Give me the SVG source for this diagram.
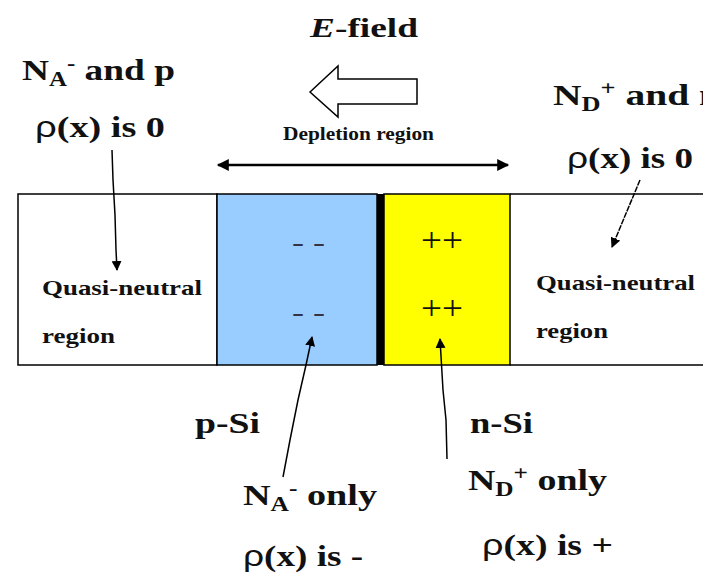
<svg xmlns="http://www.w3.org/2000/svg" width="703" height="575" viewBox="0 0 703 575" font-family="'Liberation Serif', 'Times New Roman', serif">
<defs>
<style>
text{font-family:'Liberation Serif','Times New Roman',serif;font-weight:bold;fill:#111}
.rho{font-family:'Liberation Sans',Arial,sans-serif;font-weight:normal}
.ch{font-weight:normal}
.ln{fill:none;stroke:#000;stroke-width:1.5}
</style>
<marker id="ah" viewBox="0 0 10 10" refX="9" refY="5" markerWidth="10" markerHeight="10" orient="auto" markerUnits="userSpaceOnUse">
<path d="M0,0 L10,5 L0,10 z" fill="#000"/>
</marker>
<marker id="ahb" viewBox="0 0 10 10" refX="9" refY="5" markerWidth="14" markerHeight="12" orient="auto-start-reverse" markerUnits="userSpaceOnUse">
<path d="M0,0 L10,5 L0,10 z" fill="#000"/>
</marker>
</defs>
<rect width="703" height="575" fill="#fff"/>

<g id="regions">
<rect x="18" y="194" width="199" height="171" fill="#fff" stroke="#000" stroke-width="1.5"/>
<rect x="217" y="194" width="160" height="171" fill="#99CCFF" stroke="#000" stroke-width="1.5"/>
<rect x="377" y="194" width="7" height="171" fill="#000"/>
<rect x="384" y="194" width="126" height="171" fill="#FFFF00" stroke="#000" stroke-width="1.5"/>
<path d="M510,194 H705 M510,365 H705" stroke="#000" stroke-width="1.5"/>
</g>

<g id="charges">
<text class="ch" x="292" y="251" font-size="28" textLength="33" lengthAdjust="spacingAndGlyphs" style="fill:#334">- -</text>
<text class="ch" x="292" y="321" font-size="28" textLength="33" lengthAdjust="spacingAndGlyphs" style="fill:#334">- -</text>
<text class="ch" x="421" y="251" font-size="34" textLength="42" lengthAdjust="spacingAndGlyphs">++</text>
<text class="ch" x="421" y="319" font-size="34" textLength="42" lengthAdjust="spacingAndGlyphs">++</text>
</g>

<g id="efield">
<text x="310" y="37" font-size="28" textLength="108" lengthAdjust="spacingAndGlyphs"><tspan font-style="italic">E</tspan>-field</text>
<path d="M310,92 L338,66 L338,79 L417,79 L417,104 L338,104 L338,117 Z" fill="#fff" stroke="#000" stroke-width="1.5"/>
<text x="283" y="140" font-size="18" textLength="151" lengthAdjust="spacingAndGlyphs">Depletion region</text>
</g>

<g id="connectors">
<line x1="218" y1="165" x2="508" y2="165" stroke="#000" stroke-width="2.5" marker-start="url(#ahb)" marker-end="url(#ahb)"/>
<path class="ln" d="M112,150 L113,180 L115,215 L116,250 L117,270" marker-end="url(#ah)"/>
<path class="ln" d="M640,180 L612,247" stroke-dasharray="6,1" marker-end="url(#ah)"/>
<path class="ln" d="M283,477 L290,440 L298,400 L306,365 L312,337" marker-end="url(#ah)"/>
<path class="ln" d="M447,459 L446,420 L443,390 L440,339" marker-end="url(#ah)"/>
</g>

<g id="left-label">
<text x="22" y="80" font-size="30" textLength="153" lengthAdjust="spacingAndGlyphs">N<tspan font-size="20" dy="6">A</tspan><tspan font-size="20" dy="-16">-</tspan><tspan dy="10"> and p</tspan></text>
<text x="35" y="137" font-size="30" textLength="130" lengthAdjust="spacingAndGlyphs"><tspan class="rho">ρ</tspan>(x) is 0</text>
</g>

<g id="right-label">
<text x="553" y="105" font-size="30" textLength="168" lengthAdjust="spacingAndGlyphs">N<tspan font-size="20" dy="6">D</tspan><tspan font-size="20" dy="-16">+</tspan><tspan dy="10"> and n</tspan></text>
<text x="567" y="168" font-size="30" textLength="126" lengthAdjust="spacingAndGlyphs"><tspan class="rho">ρ</tspan>(x) is 0</text>
</g>

<g id="left-qn">
<text x="42" y="295" font-size="21" textLength="160" lengthAdjust="spacingAndGlyphs">Quasi-neutral</text>
<text x="42" y="343" font-size="21" textLength="73" lengthAdjust="spacingAndGlyphs">region</text>
</g>

<g id="right-qn">
<text x="536" y="290" font-size="21" textLength="159" lengthAdjust="spacingAndGlyphs">Quasi-neutral</text>
<text x="536" y="338" font-size="21" textLength="72" lengthAdjust="spacingAndGlyphs">region</text>
</g>

<g id="psi">
<text x="195" y="433" font-size="29" textLength="65" lengthAdjust="spacingAndGlyphs">p-Si</text>
<text x="243" y="505" font-size="30" textLength="134" lengthAdjust="spacingAndGlyphs">N<tspan font-size="20" dy="6">A</tspan><tspan font-size="20" dy="-16">-</tspan><tspan dy="10"> only</tspan></text>
<text x="243" y="566" font-size="30" textLength="120" lengthAdjust="spacingAndGlyphs"><tspan class="rho">ρ</tspan>(x) is -</text>
</g>

<g id="nsi">
<text x="470" y="433" font-size="29" textLength="63" lengthAdjust="spacingAndGlyphs">n-Si</text>
<text x="468" y="490" font-size="30" textLength="139" lengthAdjust="spacingAndGlyphs">N<tspan font-size="20" dy="6">D</tspan><tspan font-size="20" dy="-16">+</tspan><tspan dy="10"> only</tspan></text>
<text x="482" y="555" font-size="30" textLength="131" lengthAdjust="spacingAndGlyphs"><tspan class="rho">ρ</tspan>(x) is +</text>
</g>
</svg>
